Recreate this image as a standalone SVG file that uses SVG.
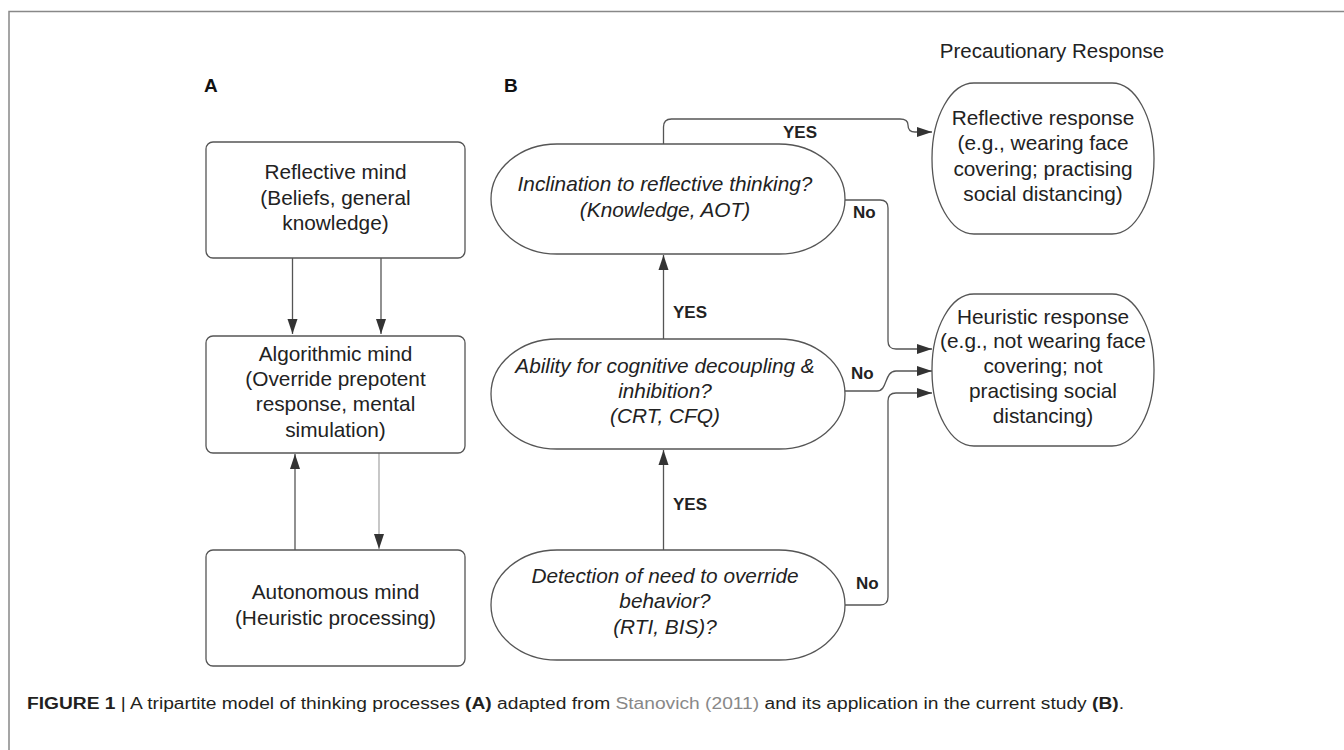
<svg xmlns="http://www.w3.org/2000/svg" width="1344" height="750" viewBox="0 0 1344 750">
<style>
.box{fill:#fff;stroke:#555;stroke-width:1.3}
.t{font-family:"Liberation Sans",Arial,sans-serif;font-size:20.8px;fill:#222;text-anchor:middle}
.it{font-style:italic}
.lbl{font-family:"Liberation Sans",Arial,sans-serif;font-size:17px;font-weight:bold;fill:#222}
.hd{font-family:"Liberation Sans",Arial,sans-serif;font-size:19px;font-weight:bold;fill:#111}
.c{fill:none;stroke:#555;stroke-width:1.3;marker-end:url(#ah)}
.cap{font-family:"Liberation Sans",Arial,sans-serif;font-size:16px;fill:#231f20}
</style>
<defs>
<marker id="ah" markerUnits="userSpaceOnUse" markerWidth="16" markerHeight="12" refX="15" refY="6" orient="auto">
<path d="M0,1 L15,6 L0,11 Z" fill="#333"/>
</marker>
</defs>
<rect width="1344" height="750" fill="#fff"/>
<path d="M9,750 V11.5 H1344" fill="none" stroke="#888" stroke-width="1.5"/>

<text class="hd" x="204" y="92">A</text>
<text class="hd" x="504" y="92">B</text>
<text class="t" x="1052" y="58" style="font-size:20.5px">Precautionary Response</text>

<g id="connectors">
<path class="c" d="M292.5,258 V334"/>
<path class="c" d="M381,258 V334"/>
<path class="c" d="M295,550 V454"/>
<path class="c" d="M379,453 V549" style="stroke:#aaa"/>
<path class="c" d="M663.5,550 V450"/>
<path class="c" d="M663.5,339 V255"/>
<path class="c" d="M663.5,144 V127 Q663.5,119 671.5,119 H900 Q908,119 908,125 Q908,132 915,132 H932"/>
<path class="c" d="M845,200 H880 Q888,200 888,208 V341 Q888,349 896,349 H932"/>
<path class="c" d="M845,391 H877 C888,391 884,371 896,371 H932"/>
<path class="c" d="M845,605 H880 Q888,605 888,597 V401 Q888,393 896,393 H932"/>
<text class="lbl" x="783" y="138">YES</text>
<text class="lbl" x="673" y="318">YES</text>
<text class="lbl" x="673" y="510">YES</text>
<text class="lbl" x="853" y="218">No</text>
<text class="lbl" x="851" y="379">No</text>
<text class="lbl" x="856" y="589">No</text>
</g>

<g id="reflective-mind">
<rect class="box" x="206" y="142" width="259" height="116" rx="7"/>
<text class="t" x="335.5" y="179">Reflective mind</text>
<text class="t" x="335.5" y="205">(Beliefs, general</text>
<text class="t" x="335.5" y="230">knowledge)</text>
</g>
<g id="algorithmic-mind">
<rect class="box" x="206" y="336" width="259" height="117" rx="7"/>
<text class="t" x="335.5" y="361">Algorithmic mind</text>
<text class="t" x="335.5" y="386">(Override prepotent</text>
<text class="t" x="335.5" y="411">response, mental</text>
<text class="t" x="335.5" y="437">simulation)</text>
</g>
<g id="autonomous-mind">
<rect class="box" x="206" y="550" width="259" height="116" rx="7"/>
<text class="t" x="335.5" y="599">Autonomous mind</text>
<text class="t" x="335.5" y="625">(Heuristic processing)</text>
</g>

<g id="inclination">
<rect class="box" x="491" y="144" width="354" height="110" rx="66" ry="55"/>
<text class="t it" x="665" y="191">Inclination to reflective thinking?</text>
<text class="t it" x="665" y="217">(Knowledge, AOT)</text>
</g>
<g id="ability">
<rect class="box" x="491" y="339" width="354" height="110" rx="66" ry="55"/>
<text class="t it" x="665" y="373">Ability for cognitive decoupling &amp;</text>
<text class="t it" x="665" y="398">inhibition?</text>
<text class="t it" x="665" y="423">(CRT, CFQ)</text>
</g>
<g id="detection">
<rect class="box" x="491" y="550" width="354" height="110" rx="66" ry="55"/>
<text class="t it" x="665" y="583">Detection of need to override</text>
<text class="t it" x="665" y="608">behavior?</text>
<text class="t it" x="665" y="634">(RTI, BIS)?</text>
</g>

<g id="reflective-response">
<rect class="box" x="932" y="83" width="222" height="151" rx="42" ry="75"/>
<text class="t" x="1043" y="125">Reflective response</text>
<text class="t" x="1043" y="150">(e.g., wearing face</text>
<text class="t" x="1043" y="176">covering; practising</text>
<text class="t" x="1043" y="201">social distancing)</text>
</g>
<g id="heuristic-response">
<rect class="box" x="932" y="294" width="222" height="152" rx="42" ry="75"/>
<text class="t" x="1043" y="324">Heuristic response</text>
<text class="t" x="1043" y="348">(e.g., not wearing face</text>
<text class="t" x="1043" y="373">covering; not</text>
<text class="t" x="1043" y="398">practising social</text>
<text class="t" x="1043" y="423">distancing)</text>
</g>

<text class="cap" x="27" y="709" textLength="1097" lengthAdjust="spacingAndGlyphs"><tspan font-weight="bold">FIGURE 1</tspan>  |  A tripartite model of thinking processes <tspan font-weight="bold">(A)</tspan> adapted from <tspan fill="#888">Stanovich (2011)</tspan> and its application in the current study <tspan font-weight="bold">(B)</tspan>.</text>
</svg>
